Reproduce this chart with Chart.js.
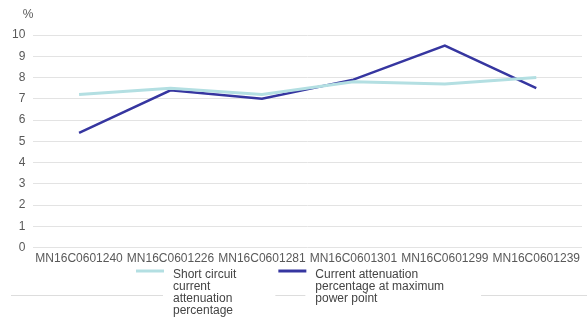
<!DOCTYPE html>
<html>
<head>
<meta charset="utf-8">
<script src="https://cdn.jsdelivr.net/npm/chart.js@4"></script>
<style>
  html, body { margin: 0; padding: 0; background: #fff; }
  #wrap { width: 587px; height: 318px; position: relative; }
</style>
</head>
<body>
<div id="wrap"><canvas id="myChart"></canvas></div>
<script>
const categories = ['MN16C0601240', 'MN16C0601226', 'MN16C0601281', 'MN16C0601301', 'MN16C0601299', 'MN16C0601239'];
const shortCircuitAtt = [7.2, 7.5, 7.2, 7.8, 7.7, 8.0];
const maxPowerAtt = [5.4, 7.4, 7.0, 7.9, 9.5, 7.5];
const seriesNames = ['Short circuit current attenuation percentage', 'Current attenuation percentage at maximum power point'];
// wrapped the same way as the picture
const legendLines = [
    ['Short circuit', 'current', 'attenuation', 'percentage'],
    ['Current attenuation', 'percentage at maximum', 'power point']
];
const yUnit = '%';

const FONT = '"Liberation Sans", Arial, sans-serif';
const ctx = document.getElementById('myChart').getContext('2d');

// draws the wrapped legend under the axis, plus the thin grey rule
const wrapLegend = {
    id: 'wrapLegend',
    afterDraw(chart) {
        const c = chart.ctx;
        const lineLen = 28, gap = 9, itemGap = 42, lineH = 12;
        let x = 136;
        let textEnd = x;
        const lineY = 271, textY = 278, ruleY = 295;
        const rules = [];
        c.save();
        c.font = '12px ' + FONT;
        c.textBaseline = 'alphabetic';
        chart.data.datasets.forEach((ds, i) => {
            c.strokeStyle = ds.borderColor;
            c.lineWidth = 3;
            c.beginPath();
            c.moveTo(x, lineY);
            c.lineTo(x + lineLen, lineY);
            c.stroke();
            rules.push([x - 3, x + lineLen - 1]);
            const tx = x + lineLen + gap;
            let w = 0;
            c.fillStyle = '#444';
            legendLines[i].forEach((t, j) => {
                c.fillText(t, tx, textY + j * lineH);
                w = Math.max(w, c.measureText(t).width);
            });
            textEnd = tx + w;
            x = textEnd + itemGap;
        });
        c.strokeStyle = '#dddddd';
        c.lineWidth = 1;
        c.beginPath();
        c.moveTo(11, ruleY + 0.5);
        c.lineTo(rules[0][1], ruleY + 0.5);
        c.moveTo(rules[1][0], ruleY + 0.5);
        c.lineTo(rules[1][1], ruleY + 0.5);
        c.moveTo(textEnd + 37, ruleY + 0.5);
        c.lineTo(chart.width, ruleY + 0.5);
        c.stroke();

        // unit label above the y axis
        c.fillStyle = '#595959';
        c.textAlign = 'center';
        c.textBaseline = 'middle';
        c.fillText(yUnit, 28, 15);
        c.restore();
    }
};

new Chart(ctx, {
    type: 'line',
    data: {
        labels: categories,
        datasets: [
            {
                label: seriesNames[0],
                data: shortCircuitAtt,
                borderColor: '#b3dfe2',
                borderWidth: 3,
                pointRadius: 0,
                tension: 0,
                fill: false
            },
            {
                label: seriesNames[1],
                data: maxPowerAtt,
                borderColor: '#3636a0',
                borderWidth: 2.5,
                pointRadius: 0,
                tension: 0,
                fill: false
            }
        ]
    },
    options: {
        responsive: true,
        maintainAspectRatio: false,
        animation: false,
        layout: { padding: { left: 4, right: 5, top: 35, bottom: 48 } },
        plugins: {
            legend: { display: false },
            tooltip: { enabled: false }
        },
        scales: {
            x: {
                offset: true,
                grid: { display: false, drawTicks: false },
                border: { display: false },
                ticks: {
                    autoSkip: false,
                    maxRotation: 0,
                    minRotation: 0,
                    padding: 4,
                    color: '#595959',
                    font: { family: FONT, size: 12 }
                }
            },
            y: {
                min: 0,
                max: 10,
                grid: { color: '#e3e3e3', lineWidth: 1, drawTicks: false },
                border: { display: false },
                ticks: {
                    stepSize: 1,
                    padding: 8,
                    color: '#595959',
                    font: { family: FONT, size: 12 }
                }
            }
        }
    },
    plugins: [wrapLegend]
});
</script>
</body>
</html>
